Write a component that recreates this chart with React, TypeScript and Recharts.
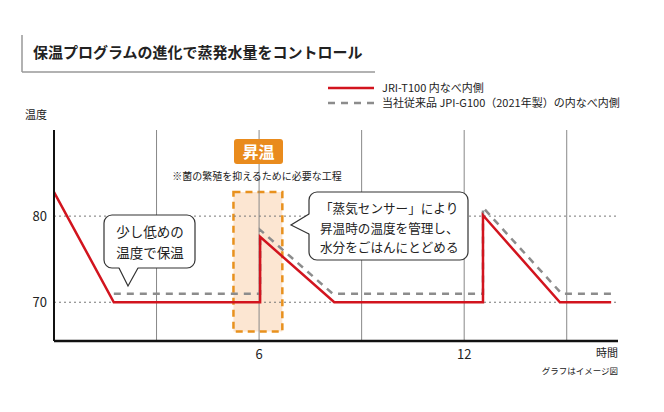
import React from "react";
import { LineChart, Line, XAxis, YAxis, ReferenceLine, ReferenceArea } from "recharts";

const FONT = '"Noto Sans CJK JP", "Noto Sans", sans-serif';
const RED = "#d2141e";
const GRAY = "#8c8c8c";
const ORANGE = "#e8911e";

// 時間 (h) / 温度
const redHours = [0, 1.75, 6.03, 6.03, 8.2, 12.55, 12.55, 14.8, 16.3];
const redTemps = [82.8, 70, 70, 77.6, 70, 70, 80.1, 70, 70];
const grayHours = [1.75, 6.03, 6.03, 8.15, 12.55, 12.55, 14.85, 16.3];
const grayTemps = [71, 71, 78.4, 71, 71, 81, 71, 71];

const xTicks = [6, 12];
const yTicks = [70, 80];
const gridHours = [3, 6, 9, 12, 15];
const dottedTemps = [70, 80];

// 昇温 phase (highlighted box)
const heatHours = [5.25, 6.68];
const heatTemps = [66.6, 82.8];

const redData = redHours.map((x, i) => ({ x, t: redTemps[i] }));
const grayData = grayHours.map((x, i) => ({ x, t: grayTemps[i] }));

function Overlay() {
  return (
    <svg
      width={664}
      height={412}
      style={{ position: "absolute", left: 0, top: 0, pointerEvents: "none" }}
      fontFamily={FONT}
    >
      {/* title */}
      <line x1={22} y1={35} x2={22} y2={72} stroke="#999" strokeWidth={1.5} />
      <line x1={22} y1={72} x2={375} y2={72} stroke="#999" strokeWidth={1.5} />
      <text x={33} y={58} fontSize={15} fontWeight={700} fill="#222">
        保温プログラムの進化で蒸発水量をコントロール
      </text>

      {/* legend */}
      <line x1={328} y1={88} x2={374} y2={88} stroke={RED} strokeWidth={2.5} />
      <text x={382} y={92} fontSize={11} fill="#222">JRI-T100 内なべ内側</text>
      <line x1={328} y1={103} x2={374} y2={103} stroke={GRAY} strokeWidth={2.5} strokeDasharray="7 6" />
      <text x={382} y={107} fontSize={11} fill="#222">当社従来品 JPI-G100（2021年製）の内なべ内側</text>

      {/* axis titles */}
      <text x={25} y={119} fontSize={11} fill="#222">温度</text>
      <text x={618} y={357} fontSize={11} fill="#222" textAnchor="end">時間</text>
      <text x={618} y={374} fontSize={8.5} fill="#222" textAnchor="end">グラフはイメージ図</text>

      {/* 昇温 label */}
      <rect x={234} y={139} width={49} height={25} rx={3} fill="#e98b1d" />
      <text x={258.5} y={157.5} fontSize={16} fontWeight={700} fill="#fff" textAnchor="middle">昇温</text>
      <text x={257} y={180} fontSize={10} fill="#222" textAnchor="middle">※菌の繁殖を抑えるために必要な工程</text>

      {/* callout 1 */}
      <rect x={104} y={215} width={91} height={53} rx={8} fill="#fff" stroke="#333" strokeWidth={1.2} />
      <polygon points="119,267 128,286 138,267" fill="#fff" />
      <polyline points="119,268 128,286 138,268" fill="none" stroke="#333" strokeWidth={1.2} />
      <text x={150} y={237} fontSize={13.5} fill="#222" textAnchor="middle">少し低めの</text>
      <text x={150} y={258} fontSize={13.5} fill="#222" textAnchor="middle">温度で保温</text>

      {/* callout 2 */}
      <rect x={309} y={192} width={159} height={68} rx={8} fill="#fff" stroke="#333" strokeWidth={1.2} />
      <polygon points="310,214 291,225 310,234" fill="#fff" />
      <polyline points="309,214 291,225 309,234" fill="none" stroke="#333" strokeWidth={1.2} />
      <text x={320} y={213} fontSize={12.6} fill="#222">「蒸気センサー」により</text>
      <text x={320} y={233} fontSize={12.6} fill="#222">昇温時の温度を管理し、</text>
      <text x={320} y={252} fontSize={12.6} fill="#222">水分をごはんにとどめる</text>
    </svg>
  );
}

export default function App() {
  return (
    <div style={{ position: "absolute", left: 0, top: 0, width: 664, height: 412, background: "#fff" }}>
      <LineChart width={664} height={412} margin={{ top: 130, right: 46, bottom: 0, left: 0 }}>
        <XAxis
          type="number"
          dataKey="x"
          domain={[0, 16.5]}
          ticks={xTicks}
          allowDataOverflow
          tickLine={false}
          tickMargin={3}
          height={71}
          axisLine={{ stroke: "#111", strokeWidth: 2.5 }}
          tick={{ fontSize: 13, fill: "#222", fontFamily: FONT }}
        />
        <YAxis
          type="number"
          dataKey="t"
          domain={[65.5, 90]}
          ticks={yTicks}
          allowDataOverflow
          tickLine={false}
          tickMargin={1}
          width={54}
          axisLine={{ stroke: "#111", strokeWidth: 2 }}
          tick={{ fontSize: 13, fill: "#222", fontFamily: FONT }}
        />
        {gridHours.map((h) => (
          <ReferenceLine key={"v" + h} x={h} stroke="#888" strokeWidth={1} />
        ))}
        {dottedTemps.map((t) => (
          <ReferenceLine key={"h" + t} y={t} stroke="#777" strokeWidth={1} strokeDasharray="2 3" />
        ))}
        <ReferenceArea
          x1={heatHours[0]}
          x2={heatHours[1]}
          y1={heatTemps[0]}
          y2={heatTemps[1]}
          fill="#fce6d2"
          fillOpacity={1}
          stroke={ORANGE}
          strokeWidth={2.5}
          strokeDasharray="7 5"
        />
        <Line
          data={grayData}
          dataKey="t"
          type="linear"
          stroke={GRAY}
          strokeWidth={2.5}
          strokeDasharray="7 6"
          dot={false}
          activeDot={false}
          isAnimationActive={false}
        />
        <Line
          data={redData}
          dataKey="t"
          type="linear"
          stroke={RED}
          strokeWidth={2.5}
          dot={false}
          activeDot={false}
          isAnimationActive={false}
        />
      </LineChart>
      <Overlay />
    </div>
  );
}
